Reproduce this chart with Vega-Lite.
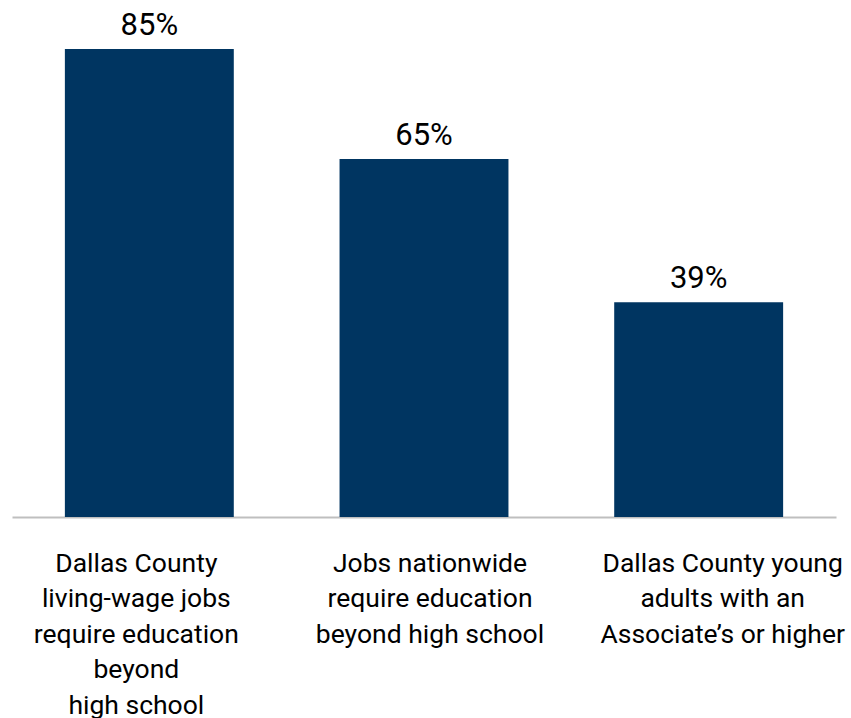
{
  "$schema": "https://vega.github.io/schema/vega-lite/v6.json",
  "width": 824,
  "height": 468,
  "autosize": {"type": "none"},
  "padding": {"left": 12, "top": 49, "right": 15, "bottom": 201},
  "background": "white",
  "config": {"view": {"stroke": null}, "font": "Roboto"},
  "data": {"values": [
    {"category": "Dallas County|living-wage jobs|require education|beyond|high school", "value": 85, "label": "85%", "order": 1},
    {"category": "Jobs nationwide|require education|beyond high school", "value": 65, "label": "65%", "order": 2},
    {"category": "Dallas County young|adults with an|Associate’s or higher", "value": 39, "label": "39%", "order": 3}
  ]},
  "encoding": {
    "x": {
      "field": "category", "type": "nominal", "sort": {"field": "order"},
      "scale": {"paddingInner": 0.385, "paddingOuter": 0.1925},
      "axis": {
        "title": null, "labelAngle": 0, "ticks": false,
        "domainColor": "#bfbfbf", "domainWidth": 2,
        "labelExpr": "split(datum.label, '|')",
        "labelOffset": {"expr": "indexof(datum.value, 'Jobs') == 0 ? 6 : (indexof(datum.value, 'young') > 0 ? 24 : -13)"},
        "labelFont": "Roboto", "labelFontSize": 26.5, "labelColor": "#000000",
        "labelLineHeight": 35.5, "labelPadding": 33, "labelLimit": 400
      }
    },
    "y": {"field": "value", "type": "quantitative", "scale": {"domain": [0, 85]}, "axis": null}
  },
  "layer": [
    {"mark": {"type": "bar", "color": "#003561"}},
    {"mark": {"type": "text", "baseline": "alphabetic", "dy": -14, "fontSize": 31, "font": "Roboto", "color": "#000000"},
     "encoding": {"text": {"field": "label"}}}
  ]
}
